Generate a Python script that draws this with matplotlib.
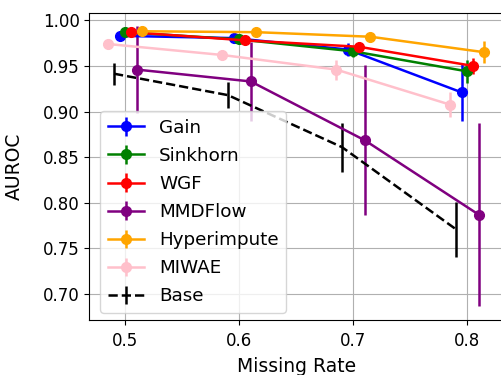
import matplotlib
matplotlib.use("Agg")
import matplotlib.pyplot as plt
import numpy as np

# missing rates (each method is shifted a little so the error bars do not overlap)
rates = np.array([0.5, 0.6, 0.7, 0.8])

methods = ["Gain", "Sinkhorn", "WGF", "MMDFlow", "Hyperimpute", "MIWAE"]
colors = ["blue", "green", "red", "purple", "orange", "pink"]
shifts = [-0.005, 0.0, 0.005, 0.01, 0.015, -0.015]

gain_mean = [0.983, 0.9805, 0.968, 0.921]
gain_err = [0.004, 0.004, 0.007, 0.031]
sinkhorn_mean = [0.987, 0.979, 0.966, 0.944]
sinkhorn_err = [0.003, 0.003, 0.006, 0.013]
wgf_mean = [0.987, 0.978, 0.971, 0.950]
wgf_err = [0.003, 0.003, 0.004, 0.009]
mmdflow_mean = [0.946, 0.933, 0.8685, 0.787]
mmdflow_err = [0.048, 0.043, 0.082, 0.100]
hyper_mean = [0.988, 0.987, 0.982, 0.965]
hyper_err = [0.002, 0.002, 0.003, 0.012]
miwae_mean = [0.974, 0.962, 0.946, 0.9075]
miwae_err = [0.003, 0.005, 0.011, 0.014]

base_mean = [0.9415, 0.918, 0.861, 0.771]
base_err = [0.012, 0.014, 0.027, 0.030]

means = [gain_mean, sinkhorn_mean, wgf_mean, mmdflow_mean, hyper_mean, miwae_mean]
errs = [gain_err, sinkhorn_err, wgf_err, mmdflow_err, hyper_err, miwae_err]

plt.rcParams["font.size"] = 12

fig = plt.figure(figsize=(5.01, 3.75), dpi=100)
ax = fig.add_axes([0.1786, 0.1467, 0.826, 0.8186])

for name, col, sh, m, e in zip(methods, colors, shifts, means, errs):
    ax.errorbar(rates + sh, m, yerr=e, fmt="-o", color=col, markersize=7,
                linewidth=1.8, elinewidth=1.8, label=name)

# baseline drawn dashed, no marker
ax.errorbar(rates - 0.01, base_mean, yerr=base_err, fmt="--", color="black",
            linewidth=1.8, elinewidth=1.8, label="Base")

ax.set_xlim(0.4685, 0.8315)
ax.set_ylim(0.6716, 1.008)
ax.set_xticks([0.5, 0.6, 0.7, 0.8])
ax.set_yticks([0.70, 0.75, 0.80, 0.85, 0.90, 0.95, 1.00])
ax.tick_params(axis="x", pad=5)
ax.set_xlabel("Missing Rate", fontsize=13.5, labelpad=5)
ax.set_ylabel("AUROC", fontsize=13.5, labelpad=14)
ax.grid(True)
ax.legend(loc="lower left", bbox_to_anchor=(0.026, 0.024), borderaxespad=0,
          fontsize=13.2, labelspacing=0.55)

plt.savefig("out.png", dpi=100)
